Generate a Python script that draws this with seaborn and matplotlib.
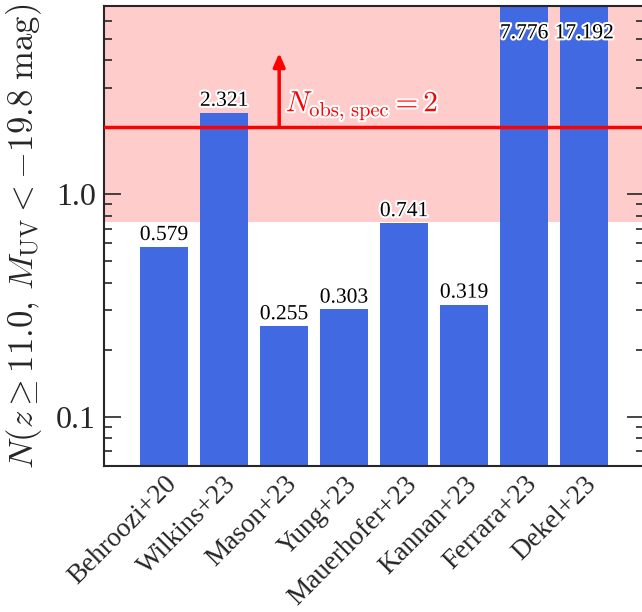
import matplotlib
matplotlib.use("Agg")
import matplotlib.pyplot as plt
import matplotlib.patheffects as pe
from matplotlib.ticker import FixedLocator, FixedFormatter, LogLocator, NullFormatter
import seaborn as sns
import pandas as pd

categories = ["Behroozi+20", "Wilkins+23", "Mason+23", "Yung+23",
              "Mauerhofer+23", "Kannan+23", "Ferrara+23", "Dekel+23"]
values = [0.579, 2.321, 0.255, 0.303, 0.741, 0.319, 7.776, 17.192]
n_obs = 2
shade_low = 0.75
ylim = (0.06, 7.0)

sns.set_style("ticks")
plt.rcParams["font.family"] = "serif"
plt.rcParams["font.serif"] = ["Liberation Serif", "Times New Roman", "DejaVu Serif"]
plt.rcParams["mathtext.fontset"] = "cm"

fig = plt.figure(figsize=(6.42, 6.12), dpi=100)
ax = fig.add_axes([104 / 642, (612 - 466) / 612, 540 / 642, 460 / 612])

df = pd.DataFrame({"model": categories, "N": values})
ax.axhspan(shade_low, 100, color="red", alpha=0.2, lw=0, zorder=0)
sns.barplot(data=df, x="model", y="N", color="royalblue", saturation=1,
            width=0.8, ax=ax, zorder=2, edgecolor="none", linewidth=0)
ax.set_yscale("log")
ax.set_ylim(*ylim)
ax.set_xlim(-1, 8)

ax.axhline(n_obs, color="red", lw=2.5, zorder=3)
ax.annotate("", xy=(1.92, 4.3), xytext=(1.92, n_obs),
            arrowprops=dict(arrowstyle="-|>,head_length=0.8,head_width=0.35",
                            color="red", lw=2.5, shrinkA=0, shrinkB=0), zorder=4)
ax.text(2.03, 2.1, r"$N_{\rm obs,\,spec} = 2$", color="red", fontsize=21,
        va="bottom", ha="left", zorder=5,
        path_effects=[pe.withStroke(linewidth=3, foreground="white")])

stroke = [pe.withStroke(linewidth=3, foreground="white")]
for i, v in enumerate(values):
    if v > ylim[1]:
        ax.text(i, ylim[1] * 0.75, f"{v:.3f}", ha="center", va="center",
                fontsize=15.5, color="black", zorder=5, path_effects=stroke)
    else:
        ax.text(i, v * 1.02, f"{v:.3f}", ha="center", va="bottom",
                fontsize=15.5, color="black", zorder=5, path_effects=stroke)

ax.yaxis.set_major_locator(FixedLocator([0.1, 1.0]))
ax.yaxis.set_major_formatter(FixedFormatter(["0.1", "1.0"]))
ax.yaxis.set_minor_locator(LogLocator(base=10, subs=range(2, 10)))
ax.yaxis.set_minor_formatter(NullFormatter())
ax.tick_params(axis="y", which="major", direction="in", length=12, width=1.2,
               labelsize=23, left=True, right=True, pad=6)
ax.tick_params(axis="y", which="minor", direction="in", length=6, width=1.2,
               left=True, right=True)
ax.tick_params(axis="x", length=0, labelsize=19.5, pad=4)
plt.setp(ax.get_xticklabels(), rotation=45, ha="right", rotation_mode="anchor")
for s in ax.spines.values():
    s.set_linewidth(1.5)
    s.set_visible(True)

ax.set_xlabel("")
ax.set_ylabel(r"$N(z \geq 11.0,\, M_{\rm UV} < -19.8\ {\rm mag})$", fontsize=25)
ax.yaxis.set_label_coords(-0.112, 0.5)

fig.savefig("out.png", dpi=100)
